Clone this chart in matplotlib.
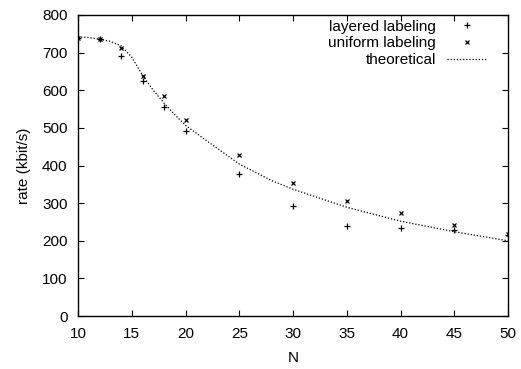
import matplotlib
matplotlib.use("Agg")
import matplotlib.pyplot as plt

# measured rates (kbit/s) versus number of nodes N
n_points = [10, 12, 14, 16, 18, 20, 25, 30, 35, 40, 45, 50]
layered = [740, 735, 692, 625, 555, 493, 378, 293, 239, 234, 229, 216]
uniform = [740, 735, 712, 637, 585, 522, 428, 354, 306, 273, 243, 219]

# theoretical curve
n_theory = [10, 11, 12, 13, 14, 15, 16, 17, 18, 19, 20, 22, 25, 28, 30, 35, 40, 45, 50]
theory = [742, 740, 736, 730, 718, 688, 640, 600, 566, 535, 507, 465, 404, 360, 337, 289, 252, 224, 200]

plt.rcParams['font.family'] = ['Liberation Sans', 'DejaVu Sans']
plt.rcParams['font.size'] = 11

fig = plt.figure(figsize=(5.21, 3.69), dpi=100)
ax = fig.add_axes([78 / 521, 1 - 316 / 369, 430 / 521, 301 / 369])

ax.plot(n_points, layered, linestyle='none', marker='+', color='black',
        markersize=4, markeredgewidth=0.9, label='layered labeling')
ax.plot(n_points, uniform, linestyle='none', marker='x', color='black',
        markersize=3.5, markeredgewidth=0.9, label='uniform labeling')
ax.plot(n_theory, theory, linestyle=(0, (1, 1.5)), color='black',
        linewidth=0.9, label='theoretical')

ax.set_xlim(10, 50)
ax.set_ylim(0, 800)
ax.set_xticks(range(10, 51, 5))
ax.set_yticks(range(0, 801, 100))
ax.tick_params(direction='in', length=4, width=0.8, top=True, right=True)
ax.tick_params(axis='x', pad=8)
ax.tick_params(axis='y', pad=7.5)
for s in ax.spines.values():
    s.set_linewidth(1.0)

ax.set_xlabel('N', labelpad=7.4)
ax.set_ylabel('rate (kbit/s)', labelpad=8)

ax.legend(loc='upper right', bbox_to_anchor=(1 - 17 / 430, 1.0),
          borderaxespad=0, borderpad=0.3, frameon=False, markerfirst=False,
          handlelength=2.6, handletextpad=0.7, labelspacing=0.18,
          fontsize=11)

fig.savefig('out.png', dpi=100)
